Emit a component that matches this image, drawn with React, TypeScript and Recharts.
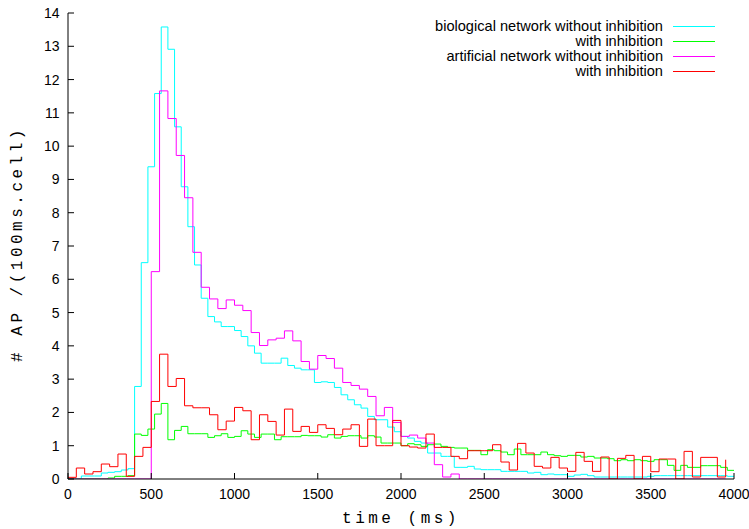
import React from 'react';
import { LineChart, Line, XAxis, YAxis, Legend, Label } from 'recharts';

// bin widths (ms)
const bioBin = 40;
const artBin = 50;

// biological network without inhibition (40 ms bins, starting at 0)
const bioNoInhib = [
  0, 0, 0.09, 0.09, 0.09, 0.18, 0.2, 0.22, 0.27, 0.31,
  2.78, 6.5, 9.38, 11.58, 13.58, 12.91, 10.58, 8.78, 7.58, 6.43,
  5.43, 4.88, 4.72, 4.58, 4.58, 4.46, 4.28, 4.0, 3.78, 3.48,
  3.48, 3.48, 3.63, 3.41, 3.33, 3.28, 3.28, 2.9, 2.92, 2.9,
  2.75, 2.53, 2.38, 2.23, 2.13, 1.88, 1.78, 1.78, 1.56, 1.42,
  1.28, 1.23, 1.13, 1.08, 0.78, 0.78, 0.68, 0.68, 0.35, 0.35,
  0.38, 0.3, 0.28, 0.28, 0.28, 0.23, 0.23, 0.23, 0.23, 0.18,
  0.2, 0.13, 0.15, 0.13, 0.13, 0.08, 0.12, 0.14, 0.1, 0.06,
  0.06, 0.06, 0.06, 0.06, 0.06, 0.06, 0.06, 0.08, 0.1, 0.1,
  0.1, 0.1, 0.1, 0.1, 0.1, 0.1, 0.1, 0.1, 0.1, 0.08, 0.08,
];

// biological network with inhibition (40 ms bins)
const bioInhib = [
  0, 0, 0, 0, 0, 0, 0.03, 0.08, 0.08, 0.1,
  1.35, 1.31, 1.5, 1.95, 2.27, 1.18, 1.46, 1.58, 1.36, 1.36,
  1.36, 1.25, 1.3, 1.36, 1.25, 1.28, 1.45, 1.35, 1.25, 1.35,
  1.35, 1.18, 1.27, 1.27, 1.27, 1.31, 1.3, 1.3, 1.26, 1.33,
  1.23, 1.28, 1.3, 1.3, 1.23, 1.3, 1.26, 1.08, 1.08, 1.08,
  1.0, 1.06, 1.03, 0.98, 1.03, 1.05, 0.98, 0.95, 0.93, 0.93,
  0.86, 0.86, 0.73, 0.88, 0.85, 0.81, 0.73, 0.9, 0.73, 0.73,
  0.73, 0.81, 0.73, 0.7, 0.68, 0.71, 0.71, 0.66, 0.68, 0.63,
  0.63, 0.61, 0.55, 0.58, 0.55, 0.58, 0.55, 0.53, 0.58, 0.58,
  0.41, 0.26, 0.41, 0.35, 0.35, 0.4, 0.4, 0.4, 0.35, 0.26, 0.26,
];

// artificial network without inhibition (50 ms bins)
const artNoInhib = [
  0, 0, 0, 0, 0, 0, 0, 0, 0, 0,
  6.23, 11.66, 10.83, 9.72, 8.45, 6.81, 5.76, 5.41, 5.12, 5.38,
  5.22, 5.06, 4.4, 4.01, 4.18, 4.23, 4.45, 4.15, 3.53, 3.3,
  3.71, 3.62, 3.33, 2.9, 2.81, 2.7, 2.48, 1.9, 2.15, 1.7,
  1.28, 1.32, 1.23, 1.08, 0.43, 0.06, 0.15, 0, 0, 0,
  0, 0, 0, 0, 0, 0, 0, 0, 0, 0,
  0, 0, 0, 0, 0, 0, 0, 0, 0, 0,
  0, 0, 0, 0, 0, 0, 0, 0, 0, 0,
];

// artificial network with inhibition (50 ms bins)
const artInhib = [
  0.05, 0.33, 0.15, 0.22, 0.45, 0.37, 0.75, 0.08, 0.68, 0.95,
  2.33, 3.75, 2.78, 3.02, 2.2, 2.14, 2.14, 1.93, 1.48, 1.74,
  2.15, 2.05, 1.18, 1.93, 1.73, 1.32, 2.1, 1.43, 1.58, 1.4,
  1.63, 1.52, 1.33, 1.5, 1.63, 0.98, 1.8, 1.0, 1.0, 1.76,
  1.0, 0.96, 0.93, 1.35, 0.95, 0.95, 0.68, 0.61, 0.85, 0.85,
  0.85, 1.03, 0.51, 0.27, 1.07, 0.78, 0.38, 0.33, 0.65, 0.33,
  0.23, 0.8, 0.53, 0.23, 0.66, 0, 0.62, 0.71, 0, 0.68,
  0.22, 0.6, 0.6, 0, 0.83, 0.06, 0.65, 0.65, 0.06, 0.58,
];

const xTicks = [0, 500, 1000, 1500, 2000, 2500, 3000, 3500, 4000];
const yTicks = [0, 1, 2, 3, 4, 5, 6, 7, 8, 9, 10, 11, 12, 13, 14];

const seriesNames = [
  'biological network without inhibition',
  'with inhibition',
  'artificial network without inhibition',
  'with inhibition',
];
const seriesColors = ['#00ffff', '#00ff00', '#ff00ff', '#ff0000'];

const toData = (vals: number[], bin: number) => vals.map((y, i) => ({ x: i * bin, y }));

const series = [
  { data: toData(bioNoInhib, bioBin) },
  { data: toData(bioInhib, bioBin) },
  { data: toData(artNoInhib, artBin) },
  { data: toData(artInhib, artBin) },
];

const sansFont = '"Liberation Sans", Arial, Helvetica, sans-serif';
const monoFont = '"Liberation Mono", "Courier New", monospace';

const renderLegend = () => (
  <div style={{ width: 749, fontFamily: sansFont, fontSize: 14.6, color: '#000' }}>
    {seriesNames.map((name, i) => (
      <div
        key={i}
        style={{
          display: 'flex',
          justifyContent: 'flex-end',
          alignItems: 'flex-start',
          height: 15,
          lineHeight: '15px',
          paddingRight: 34,
          overflow: 'visible',
        }}
      >
        <span style={{ whiteSpace: 'nowrap', height: 15 }}>{name}</span>
        <svg width={42} height={15} style={{ marginLeft: 10, display: 'block' }}>
          <line
            x1={0}
            x2={42}
            y1={7.5}
            y2={7.5}
            stroke={seriesColors[i]}
            strokeWidth={1}
            shapeRendering="crispEdges"
          />
        </svg>
      </div>
    ))}
  </div>
);

const XLabel = (props: any) => {
  const vb = props.viewBox;
  const cx = vb.x + vb.width / 2;
  return (
    <text
      x={cx}
      y={523}
      textAnchor="middle"
      fontFamily={monoFont}
      fontSize={16}
      style={{ letterSpacing: 3.5 }}
      fill="#000"
    >
      time (ms)
    </text>
  );
};

const YLabel = (props: any) => {
  const vb = props.viewBox;
  const cx = 18;
  const cy = vb.y + vb.height / 2 - 2;
  return (
    <text
      x={cx}
      y={cy}
      transform={`rotate(-90 ${cx} ${cy})`}
      textAnchor="middle"
      dominantBaseline="central"
      fontFamily={monoFont}
      fontSize={16}
      style={{ letterSpacing: 3.5 }}
      fill="#000"
    >
      # AP /(100ms.cell)
    </text>
  );
};

export default function App() {
  const tickStyle = { fill: '#000', fontSize: 14, fontFamily: sansFont };
  return (
    <div style={{ width: 749, height: 529, background: '#fff' }}>
      <style>{'body{margin:0;background:#fff}'}</style>
      <LineChart width={749} height={529} margin={{ top: 13, right: 15, left: 0, bottom: 0 }}>
        <XAxis
          type="number"
          dataKey="x"
          domain={[0, 4000]}
          ticks={xTicks}
          interval={0}
          allowDataOverflow
          height={50}
          tickSize={-6}
          tickMargin={16}
          tick={tickStyle}
          axisLine={{ stroke: '#000', strokeWidth: 1 }}
          tickLine={{ stroke: '#000', strokeWidth: 1 }}
        >
          <Label content={<XLabel />} />
        </XAxis>
        <XAxis
          xAxisId="top"
          orientation="top"
          type="number"
          dataKey="x"
          domain={[0, 4000]}
          ticks={xTicks}
          interval={0}
          allowDataOverflow
          height={0}
          tickSize={-6}
          tick={false}
          axisLine={{ stroke: '#000', strokeWidth: 1 }}
          tickLine={{ stroke: '#000', strokeWidth: 1 }}
        />
        <YAxis
          type="number"
          domain={[0, 14]}
          ticks={yTicks}
          interval={0}
          allowDataOverflow
          width={68}
          tickSize={-6}
          tickMargin={14.5}
          tick={tickStyle}
          axisLine={{ stroke: '#000', strokeWidth: 1 }}
          tickLine={{ stroke: '#000', strokeWidth: 1 }}
        >
          <Label content={<YLabel />} />
        </YAxis>
        <YAxis
          yAxisId="right"
          orientation="right"
          type="number"
          domain={[0, 14]}
          ticks={yTicks}
          interval={0}
          allowDataOverflow
          width={0}
          tickSize={-6}
          tick={false}
          axisLine={{ stroke: '#000', strokeWidth: 1 }}
          tickLine={{ stroke: '#000', strokeWidth: 1 }}
        />
        <Legend
          layout="horizontal"
          verticalAlign="middle"
          align="center"
          content={renderLegend}
          wrapperStyle={{ top: 19, left: 0, width: 749 }}
        />
        {series.map((s, i) => (
          <Line
            key={i}
            data={s.data}
            dataKey="y"
            name={seriesNames[i]}
            type="stepAfter"
            stroke={seriesColors[i]}
            strokeWidth={1}
            dot={false}
            activeDot={false}
            isAnimationActive={false}
            legendType="line"
          />
        ))}
      </LineChart>
    </div>
  );
}
